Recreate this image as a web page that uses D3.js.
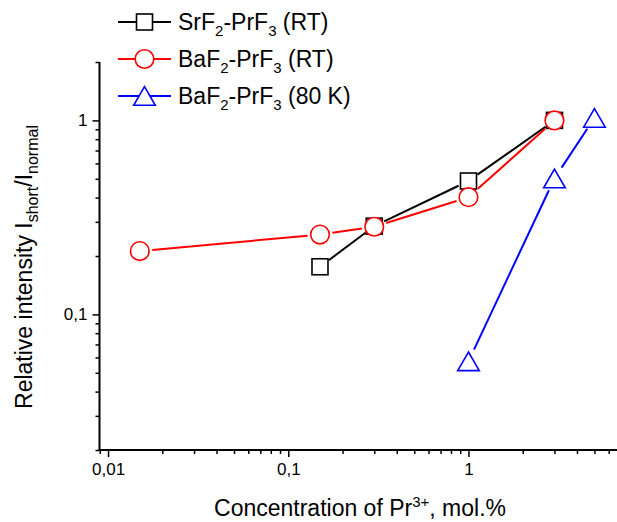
<!DOCTYPE html>
<html>
<head>
<meta charset="utf-8">
<script src="https://cdn.jsdelivr.net/npm/d3@7"></script>
<style>
  body { margin: 0; background: #fff; }
  svg { display: block; font-family: "Liberation Sans", Arial, sans-serif; }
</style>
</head>
<body>
<svg id="chart" width="617" height="522"></svg>
<script>
// ---- data ----
const srX = [0.15, 0.3, 1, 3];
const srY = [0.176, 0.285, 0.487, 1.0];
const baX = [0.015, 0.15, 0.3, 1, 3];
const baY = [0.212, 0.258, 0.283, 0.402, 1.0];
const ba80X = [1, 3, 5];
const ba80Y = [0.0573, 0.502, 1.03];

const xMajorTicks = [0.01, 0.1, 1];
const xMajorLabels = ["0,01", "0,1", "1"];
const xMinorTicks = [0.009, 0.02, 0.03, 0.04, 0.05, 0.06, 0.07, 0.08, 0.09,
                     0.2, 0.3, 0.4, 0.5, 0.6, 0.7, 0.8, 0.9, 2, 3, 4, 5, 6];
const yMajorTicks = [0.1, 1];
const yMajorLabels = ["0,1", "1"];
const yMinorTicks = [0.02, 0.03, 0.04, 0.05, 0.06, 0.07, 0.08, 0.09,
                     0.2, 0.3, 0.4, 0.5, 0.6, 0.7, 0.8, 0.9, 2];

const series = [
  { name: ["SrF", "2", "-PrF", "3", " (RT)"], xs: srX, ys: srY, color: "#000000", shape: "square" },
  { name: ["BaF", "2", "-PrF", "3", " (RT)"], xs: baX, ys: baY, color: "#ff0000", shape: "circle" },
  { name: ["BaF", "2", "-PrF", "3", " (80 K)"], xs: ba80X, ys: ba80Y, color: "#0000ff", shape: "triangle" }
];

// ---- layout ----
const svg = d3.select("#chart");
const x = d3.scaleLog().domain([0.009, 6.67]).range([99.8, 617]);
const y = d3.scaleLog().domain([0.02, 2]).range([450, 62]);

const gap = { square: 11, circle: 12.5, triangle: 13 };

function marker(g, shape, cx, cy, color) {
  if (shape === "square") {
    g.append("rect").attr("x", cx - 8).attr("y", cy - 8).attr("width", 16).attr("height", 16)
      .attr("fill", "#fff").attr("stroke", color).attr("stroke-width", 1.6);
  } else if (shape === "circle") {
    g.append("circle").attr("cx", cx).attr("cy", cy).attr("r", 9.3)
      .attr("fill", "#fff").attr("stroke", color).attr("stroke-width", 1.6);
  } else {
    const w = 10.8, h = 9.3;
    g.append("path").attr("d", `M${cx},${cy - h}L${cx + w},${cy + h}L${cx - w},${cy + h}Z`)
      .attr("fill", "#fff").attr("stroke", color).attr("stroke-width", 1.6);
  }
}

// ---- axes ----
const axG = svg.append("g");
// minor ticks
axG.append("g").attr("transform", "translate(0,450)")
  .call(d3.axisBottom(x).tickValues(xMinorTicks).tickSize(4).tickFormat(""))
  .call(g => g.select(".domain").remove())
  .call(g => g.selectAll("line").attr("stroke-width", 1.5).attr("stroke", "#000"));
axG.append("g").attr("transform", "translate(0,450)")
  .call(d3.axisBottom(x).tickValues(xMajorTicks).tickSize(7).tickPadding(6)
    .tickFormat((d, i) => xMajorLabels[i]))
  .call(g => g.select(".domain").remove())
  .call(g => g.selectAll("line").attr("stroke-width", 1.5).attr("stroke", "#000"))
  .call(g => g.selectAll("text").attr("font-size", 17).attr("fill", "#000")
    .attr("font-family", "Liberation Sans, Arial, sans-serif"));

axG.append("g").attr("transform", "translate(99.5,0)")
  .call(d3.axisLeft(y).tickValues(yMinorTicks).tickSize(4).tickFormat(""))
  .call(g => g.select(".domain").remove())
  .call(g => g.selectAll("line").attr("stroke-width", 1.5).attr("stroke", "#000"));
axG.append("g").attr("transform", "translate(99.5,0)")
  .call(d3.axisLeft(y).tickValues(yMajorTicks).tickSize(7).tickPadding(5)
    .tickFormat((d, i) => yMajorLabels[i]))
  .call(g => g.select(".domain").remove())
  .call(g => g.selectAll("line").attr("stroke-width", 1.5).attr("stroke", "#000"))
  .call(g => g.selectAll("text").attr("font-size", 17).attr("fill", "#000")
    .attr("font-family", "Liberation Sans, Arial, sans-serif"));

// axis lines
svg.append("line").attr("x1", 99.5).attr("x2", 99.5).attr("y1", y(2)).attr("y2", 451)
  .attr("stroke", "#000").attr("stroke-width", 2);
svg.append("line").attr("x1", 98.5).attr("x2", 617).attr("y1", 450).attr("y2", 450)
  .attr("stroke", "#000").attr("stroke-width", 2);

// ---- data ----
series.forEach(s => {
  const g = svg.append("g");
  const pts = s.xs.map((v, i) => [x(v), y(s.ys[i])]);
  const r = gap[s.shape];
  for (let i = 0; i < pts.length - 1; i++) {
    const [x1, y1] = pts[i], [x2, y2] = pts[i + 1];
    const dx = x2 - x1, dy = y2 - y1, L = Math.hypot(dx, dy);
    if (L <= 2 * r) continue;
    const ux = dx / L, uy = dy / L;
    g.append("line")
      .attr("x1", x1 + ux * r).attr("y1", y1 + uy * r)
      .attr("x2", x2 - ux * r).attr("y2", y2 - uy * r)
      .attr("stroke", s.color).attr("stroke-width", 2);
  }
  pts.forEach(p => marker(g, s.shape, p[0], p[1], s.color));
});

// ---- legend ----
const legY = [22, 59, 96];
series.forEach((s, i) => {
  const g = svg.append("g");
  const cy = legY[i];
  g.append("line").attr("x1", 118).attr("x2", 171).attr("y1", cy).attr("y2", cy)
    .attr("stroke", s.color).attr("stroke-width", 2);
  marker(g, s.shape, 144.5, cy, s.color);
  const t = g.append("text").attr("x", 178).attr("y", cy + 8).attr("font-size", 23).attr("fill", "#000");
  t.append("tspan").text(s.name[0]);
  t.append("tspan").attr("font-size", 15).attr("dy", 6).text(s.name[1]);
  t.append("tspan").attr("dy", -6).text(s.name[2]);
  t.append("tspan").attr("font-size", 15).attr("dy", 6).text(s.name[3]);
  t.append("tspan").attr("dy", -6).text(s.name[4]);
});

// ---- axis titles ----
const xt = svg.append("text").attr("x", 360).attr("y", 516).attr("text-anchor", "middle")
  .attr("font-size", 23).attr("fill", "#000");
xt.append("tspan").text("Concentration of Pr");
xt.append("tspan").attr("font-size", 15).attr("dy", -9).text("3+");
xt.append("tspan").attr("dy", 9).text(", mol.%");

const yt = svg.append("text").attr("transform", "translate(32,267) rotate(-90)")
  .attr("text-anchor", "middle").attr("font-size", 23).attr("fill", "#000");
yt.append("tspan").text("Relative intensity I");
yt.append("tspan").attr("font-size", 16).attr("dy", 6).text("short");
yt.append("tspan").attr("dy", -6).text("/I");
yt.append("tspan").attr("font-size", 16).attr("dy", 6).text("normal");
</script>
</body>
</html>
